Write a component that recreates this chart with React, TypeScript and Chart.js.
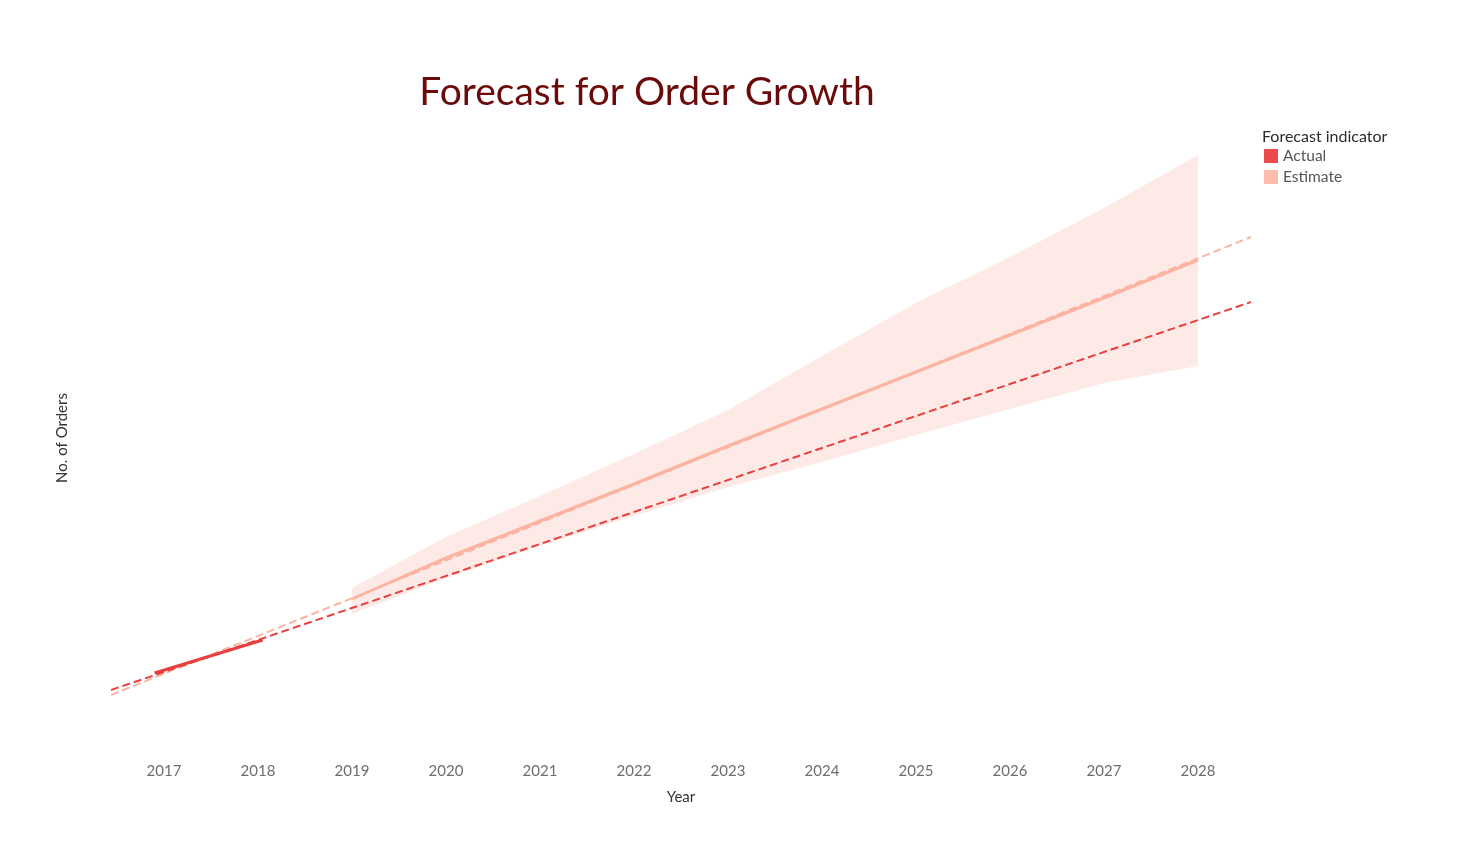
import { useEffect, useRef } from "react";
import { Chart, registerables } from "chart.js";

Chart.register(...registerables);

// Year ticks along the horizontal axis
const years = [2017, 2018, 2019, 2020, 2021, 2022, 2023, 2024, 2025, 2026, 2027, 2028];

// Actual orders
const actualYears = [2016.9, 2018.05];
const actualOrders = [730, 1060];

// Forecast estimate and its prediction band
const estimateYears = [2019, 2020, 2021, 2022, 2023, 2024, 2025, 2026, 2027, 2028];
const estimateOrders = [1470, 1880, 2250, 2620, 3000, 3370, 3740, 4110, 4480, 4860];
const upperBound = [1580, 2090, 2500, 2920, 3360, 3900, 4430, 4890, 5380, 5910];
const lowerBound = [1320, 1680, 2000, 2300, 2590, 2840, 3110, 3370, 3630, 3800];

// Linear trend lines spanning the full axis
const trendYears = [2016.436, 2028.564];
const actualTrend = [560, 4440];
const estimateTrend = [510, 5090];

const legendLabels = ["Actual", "Estimate"];
const titleText = "Forecast for Order Growth";
const legendTitle = "Forecast indicator";

const RED = "#e8403f";
const RED_SWATCH = "#ea4a4b";
const SALMON = "#fbb4a2";
const SALMON_SWATCH = "#fdbdad";
const BAND = "#fde9e5";
const FONT = "Lato, 'Open Sans', sans-serif";

const pts = (xs: number[], ys: number[]) => xs.map((x, i) => ({ x, y: ys[i] }));

const textPlugin = {
  id: "chartText",
  afterDraw(chart: any) {
    const ctx = chart.ctx as CanvasRenderingContext2D;
    const area = chart.chartArea;
    ctx.save();
    ctx.textBaseline = "middle";

    // Title
    ctx.font = `39px ${FONT}`;
    ctx.fillStyle = "#6b0a0a";
    ctx.textAlign = "center";
    ctx.fillText(titleText, 647, 92);

    // Horizontal axis title
    ctx.font = `15px ${FONT}`;
    ctx.fillStyle = "#333333";
    ctx.fillText("Year", (area.left + area.right) / 2, 797);

    // Vertical axis title
    ctx.save();
    ctx.translate(62, (area.top + area.bottom) / 2);
    ctx.rotate(-Math.PI / 2);
    ctx.font = `15px ${FONT}`;
    ctx.fillStyle = "#333333";
    ctx.fillText("No. of Orders", 0, 0);
    ctx.restore();

    // Legend
    ctx.textAlign = "left";
    ctx.font = `16px ${FONT}`;
    ctx.fillStyle = "#2b2b2b";
    ctx.fillText(legendTitle, 1262, 137);
    const swatches = [RED_SWATCH, SALMON_SWATCH];
    ctx.font = `15.5px ${FONT}`;
    legendLabels.forEach((label, i) => {
      const cy = 156 + i * 21;
      ctx.fillStyle = swatches[i];
      ctx.fillRect(1264, cy - 7, 14, 14);
      ctx.fillStyle = "#555555";
      ctx.fillText(label, 1283, cy);
    });
    ctx.restore();
  },
};

export default function App() {
  const canvasRef = useRef<HTMLCanvasElement | null>(null);

  useEffect(() => {
    document.body.style.margin = "0";
    const canvas = canvasRef.current;
    if (!canvas) return;

    const chart = new Chart(canvas, {
      type: "line",
      data: {
        datasets: [
          {
            label: "Actual",
            data: pts(actualYears, actualOrders),
            borderColor: RED,
            borderWidth: 3,
            pointRadius: 0,
            order: 0,
          },
          {
            label: "Estimate",
            data: pts(estimateYears, estimateOrders),
            borderColor: SALMON,
            borderWidth: 3,
            pointRadius: 0,
            order: 1,
          },
          {
            label: "Actual trend",
            data: pts(trendYears, actualTrend),
            borderColor: RED,
            borderWidth: 2,
            borderDash: [8, 4],
            pointRadius: 0,
            order: 2,
          },
          {
            label: "Estimate trend",
            data: pts(trendYears, estimateTrend),
            borderColor: SALMON,
            borderWidth: 2,
            borderDash: [8, 4],
            pointRadius: 0,
            order: 3,
          },
          {
            label: "Lower bound",
            data: pts(estimateYears, lowerBound),
            borderWidth: 0,
            borderColor: "rgba(0,0,0,0)",
            pointRadius: 0,
            fill: false,
            order: 5,
          },
          {
            label: "Upper bound",
            data: pts(estimateYears, upperBound),
            borderWidth: 0,
            borderColor: "rgba(0,0,0,0)",
            backgroundColor: BAND,
            pointRadius: 0,
            fill: "-1",
            order: 4,
          },
        ],
      },
      options: {
        animation: false,
        responsive: false,
        devicePixelRatio: 1,
        layout: { padding: { left: 111, right: 229, top: 130, bottom: 72 } },
        plugins: {
          legend: { display: false },
          title: { display: false },
          tooltip: { enabled: false },
          filler: { drawTime: "beforeDatasetsDraw" },
        },
        scales: {
          x: {
            type: "linear",
            min: trendYears[0],
            max: trendYears[1],
            grid: { display: false, drawTicks: false },
            border: { display: false },
            afterBuildTicks: (scale: any) => {
              scale.ticks = years.map((v) => ({ value: v }));
            },
            ticks: {
              padding: 16,
              color: "#6e6e6e",
              font: { family: FONT, size: 15 },
              callback: (v: any) => String(v),
            },
          },
          y: {
            display: false,
            min: 0,
            max: 6160,
          },
        },
      },
      plugins: [textPlugin],
    } as any);

    return () => chart.destroy();
  }, []);

  return (
    <div style={{ width: 1480, height: 868, background: "#ffffff" }}>
      <canvas ref={canvasRef} width={1480} height={868} style={{ display: "block" }} />
    </div>
  );
}
